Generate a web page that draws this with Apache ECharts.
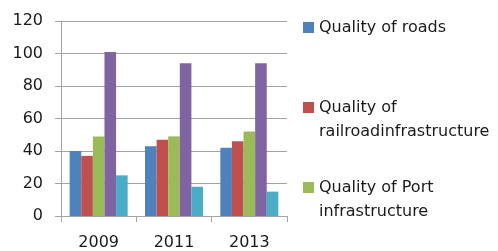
<!DOCTYPE html>
<html>
<head>
<meta charset="utf-8">
<script src="https://cdn.jsdelivr.net/npm/echarts@6/dist/echarts.min.js"></script>
<style>
  html, body { margin: 0; padding: 0; background: #fff; }
  #chart { width: 498px; height: 251px; }
</style>
</head>
<body>
<div id="chart"></div>
<script>
// categories and values
const years = ['2009', '2011', '2013']
const roads = [40, 43, 42]
const railroad = [37, 47, 46]
const port = [49, 49, 52]
const airTransport = [101, 94, 94]
const electricity = [25, 18, 15]
const yTicks = { min: 0, max: 120, interval: 20 }

const names = [
  'Quality of roads',
  'Quality of railroadinfrastructure',
  'Quality of Port infrastructure',
  'Quality of air transport infrastructure',
  'Quality of electricity supply',
]
// how each legend entry is broken onto lines
const legendText = {
  'Quality of roads': 'Quality of roads',
  'Quality of railroadinfrastructure': 'Quality of\nrailroadinfrastructure',
  'Quality of Port infrastructure': 'Quality of Port\ninfrastructure',
}
const colors = ['#4F81BD', '#C0504D', '#9BBB59', '#8064A2', '#4BACC6']
const values = [roads, railroad, port, airTransport, electricity]

const font = 'DejaVu Sans'
const lineH = 24
const gridColor = '#A3A3A3'

// square marker sitting on the first text line
function icon(lines) {
  const h = lineH * lines
  return 'path://M0,6.5H11V17.5H0Z M0,0h0.01v0.01z M0,' + h + 'h0.01v0.01z'
}
function makeLegend(name, top, lines) {
  return {
    data: [{ name: name, icon: icon(lines) }],
    left: 303,
    top: top,
    padding: 0,
    itemWidth: 11,
    itemHeight: lineH * lines,
    selectedMode: false,
    formatter: (n) => legendText[n],
    textStyle: { fontFamily: font, fontSize: 16, lineHeight: lineH, color: '#1a1a1a' },
  }
}

const chart = echarts.init(document.getElementById('chart'))
chart.setOption({
  animation: false,
  backgroundColor: '#fff',
  grid: { left: 61, right: 211, top: 21, bottom: 33 },
  legend: [
    makeLegend(names[0], 15.5, 1),
    makeLegend(names[1], 95.5, 2),
    makeLegend(names[2], 175.5, 2),
  ],
  xAxis: {
    type: 'category',
    data: years,
    axisLine: { lineStyle: { color: gridColor, width: 1 } },
    axisTick: { show: true, length: 6, lineStyle: { color: gridColor } },
    axisLabel: { fontFamily: font, fontSize: 16, color: '#1a1a1a', margin: 19 },
  },
  yAxis: {
    type: 'value',
    min: yTicks.min,
    max: yTicks.max,
    interval: yTicks.interval,
    axisLine: { show: true, lineStyle: { color: gridColor, width: 1 } },
    axisTick: { show: true, length: 6, lineStyle: { color: gridColor } },
    splitLine: { lineStyle: { color: gridColor, width: 1 } },
    axisLabel: { fontFamily: font, fontSize: 16, color: '#1a1a1a', margin: 18 },
  },
  series: names.map((n, i) => ({
    name: n,
    type: 'bar',
    data: values[i],
    barGap: '0%',
    barCategoryGap: '23%',
    itemStyle: { color: colors[i] },
  })),
})
</script>
</body>
</html>
